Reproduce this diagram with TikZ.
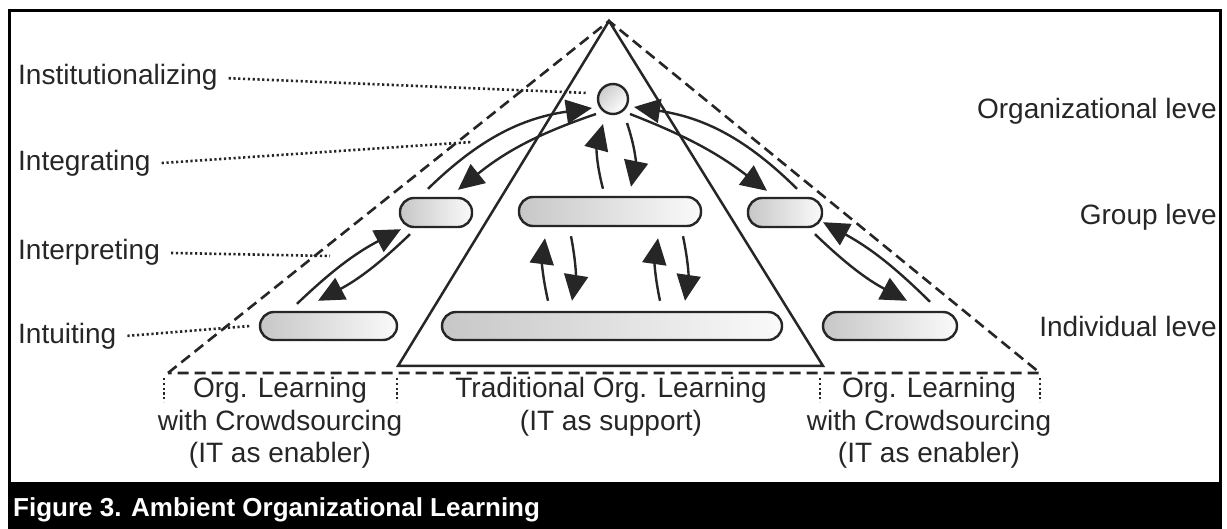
\documentclass[tikz,border=0pt]{standalone}
\usepackage{fontspec}
\setmainfont{Liberation Sans}
\usetikzlibrary{arrows.meta}
\definecolor{ink}{HTML}{262626}
\begin{document}
\begin{tikzpicture}[x=1pt,y=-1pt,
  lbl/.style={font=\fontsize{28}{32}\selectfont, text=ink, inner sep=0pt},
  pill/.style={draw=ink, line width=2.4pt, rounded corners=14pt, left color=black!22, right color=black!2, minimum height=29pt, inner sep=0pt},
  ball/.style={draw=ink, line width=2.4pt, circle, minimum size=30pt, inner sep=0pt, left color=black!20, right color=white, shading angle=45},
  arr/.style={draw=ink, line width=2.4pt, -{Triangle[length=26pt,width=24pt]}},
  lead/.style={draw=ink, line width=2.6pt, dash pattern=on 2.2pt off 2.6pt, shorten <=11pt},
  dsh/.style={draw=ink, line width=2.6pt, dash pattern=on 11pt off 6pt},
  sep/.style={draw=ink, line width=2.6pt, dash pattern=on 2.2pt off 2.6pt},
]
\useasboundingbox (0,0) rectangle (1227,529);
\fill[white] (0,0) rectangle (1227,529);

% frame and caption bar
\draw[line width=3pt] (9.5,10.5) rectangle (1220.5,483);
\fill[black] (8,483) rectangle (1222,529);
\node[anchor=base west, text=white, font=\bfseries\fontsize{26}{30}\selectfont, inner sep=0pt] (cap) at (13,516) {Figure 3. Ambient Organizational Learning};

% triangles
\coordinate (apex) at (609,21);
\coordinate (sl) at (398,366);
\coordinate (sr) at (823,366);
\coordinate (dl) at (168,373);
\coordinate (dr) at (1040,373);
\draw[dsh] (dl) -- (apex) -- (dr) -- cycle;
\draw[draw=ink, line width=2.5pt, line join=miter] (sl) -- (apex) -- (sr) -- cycle;

% nodes
\node[ball] (c) at (613,99) {};
\node[pill, minimum width=72pt] (lg) at (436,212.5) {};
\node[pill, minimum width=182pt] (cg) at (610,211.5) {};
\node[pill, minimum width=74pt] (rg) at (785,212.5) {};
\node[pill, minimum width=137pt, minimum height=28pt] (li) at (328.5,326) {};
\node[pill, minimum width=340pt, minimum height=28pt] (ci) at (612,326) {};
\node[pill, minimum width=134pt, minimum height=28pt] (ri) at (890,326) {};

% arrows organisational <-> group
\draw[arr] ([xshift=-8pt,yshift=8pt]lg.north) to[bend left=18] ([xshift=-21pt,yshift=-9pt]c.center);
\draw[arr] ([xshift=-17pt,yshift=-15pt]c.center) to[bend right=10] ([xshift=22pt,yshift=7pt]lg.north);
\draw[arr] ([xshift=-7pt,yshift=7pt]cg.north) to[bend left=15] ([xshift=-10pt,yshift=-25pt]c.center);
\draw[arr] ([xshift=14pt,yshift=-24pt]c.center) to[bend left=15] ([xshift=21pt,yshift=9pt]cg.north);
\draw[arr] ([xshift=17pt,yshift=-15pt]c.center) to[bend left=8] ([xshift=-18pt,yshift=6pt]rg.north);
\draw[arr] ([xshift=12pt,yshift=8pt]rg.north) to[bend right=18] ([xshift=21pt,yshift=-8pt]c.center);

% arrows group <-> individual
\draw[arr] ([xshift=-31.5pt,yshift=7pt]li.north) to[bend left=8] ([xshift=-35pt,yshift=-1pt]lg.south);
\draw[arr] ([xshift=-26pt,yshift=-6pt]lg.south) to[bend left=8] ([xshift=-10.5pt,yshift=10pt]li.north);
\draw[arr] ([xshift=40pt,yshift=9pt]ri.north) to[bend right=8] ([xshift=38pt,yshift=6pt]rg.south);
\draw[arr] ([xshift=30pt,yshift=-6pt]rg.south) to[bend right=8] ([xshift=17pt,yshift=10pt]ri.north);
\draw[arr] ([xshift=-64pt,yshift=10pt]ci.north) to[bend left=10] ([xshift=-65pt,yshift=-11pt]cg.south);
\draw[arr] ([xshift=-39pt,yshift=-9pt]cg.south) to[bend left=10] ([xshift=-40pt,yshift=10pt]ci.north);
\draw[arr] ([xshift=48pt,yshift=10pt]ci.north) to[bend left=10] ([xshift=48pt,yshift=-11pt]cg.south);
\draw[arr] ([xshift=73pt,yshift=-9pt]cg.south) to[bend left=10] ([xshift=73pt,yshift=10pt]ci.north);

% left labels with leaders
\node[lbl, anchor=base west] (inst) at (18,85) {Institutionalizing};
\node[lbl, anchor=base west] (integ) at (18,171) {Integrating};
\node[lbl, anchor=base west] (interp) at (18,260) {Interpreting};
\node[lbl, anchor=base west] (intui) at (18,344) {Intuiting};
\coordinate (t1) at (588,93);
\coordinate (t2) at (472,142);
\coordinate (t3) at (330,256);
\coordinate (t4) at (250,326);
\draw[lead] (inst.east) -- (t1);
\draw[lead] (integ.east) -- (t2);
\draw[lead] (interp.east) -- (t3);
\draw[lead] (intui.east) -- (t4);

% right labels
\node[lbl, anchor=base east] (orgl) at (1217,119) {Organizational leve};
\node[lbl, anchor=base east] (grpl) at (1217,225) {Group leve};
\node[lbl, anchor=base east] (indl) at (1217,337) {Individual leve};

% bottom separators
\draw[sep] (164,378) -- (164,402);
\draw[sep] (397,378) -- (397,402);
\draw[sep] (820,378) -- (820,402);
\draw[sep] (1040,378) -- (1040,402);

% bottom labels
\node[lbl, anchor=base] (l1) at (280,398) {Org. Learning};
\node[lbl, anchor=base] (l2) at (280,430) {with Crowdsourcing};
\node[lbl, anchor=base] (l3) at (280,462) {(IT as enabler)};
\node[lbl, anchor=base] (m1) at (611,398) {Traditional Org. Learning};
\node[lbl, anchor=base] (m2) at (611,430) {(IT as support)};
\node[lbl, anchor=base] (r1) at (929,398) {Org. Learning};
\node[lbl, anchor=base] (r2) at (929,430) {with Crowdsourcing};
\node[lbl, anchor=base] (r3) at (929,462) {(IT as enabler)};
\end{tikzpicture}
\end{document}
